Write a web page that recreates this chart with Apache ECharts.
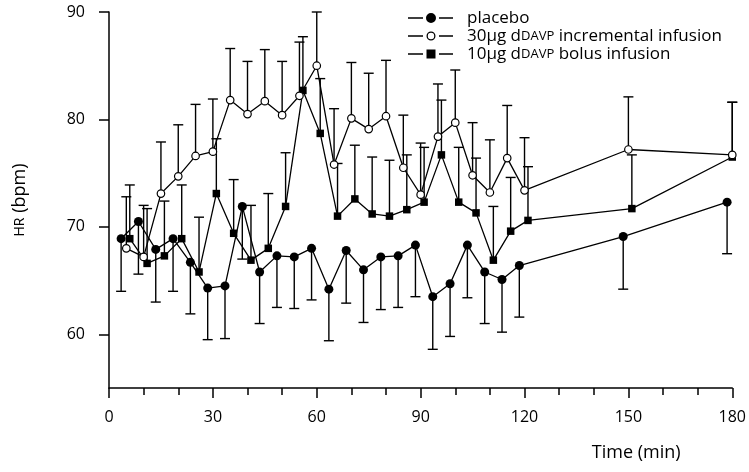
<!DOCTYPE html>
<html><head><meta charset="utf-8">
<script src="https://cdn.jsdelivr.net/npm/echarts@6/dist/echarts.min.js"></script>
<style>html,body{margin:0;padding:0;background:#fff}#c{width:749px;height:472px}</style>
</head><body><div id="c"></div>
<script>
// ---- data ----
const seriesNames = ['placebo', '30µg dDAVP incremental infusion', '10µg dDAVP bolus infusion'];
const xTickLabels = [0, 30, 60, 90, 120, 150, 180];
const yTickLabels = [60, 70, 80, 90];

// placebo (drawn slightly left of nominal time)
const placeboTime = [3.5,8.5,13.5,18.5,23.5,28.5,33.5,38.5,43.5,48.5,53.5,58.5,63.5,68.5,73.5,78.5,83.5,88.5,93.5,98.5,103.5,108.5,113.5,118.5,148.5,178.5];
const placeboHR   = [68.9,70.5,67.9,68.9,66.7,64.3,64.5,71.9,65.8,67.3,67.2,68.0,64.2,67.8,66.0,67.2,67.3,68.3,63.5,64.7,68.3,65.8,65.1,66.4,69.1,72.3];
const placeboLow  = [64.0,65.6,63.0,64.0,61.9,59.5,59.6,67.0,61.0,62.5,62.4,63.2,59.4,62.9,61.1,62.3,62.5,63.5,58.6,59.8,63.4,61.0,60.2,61.6,64.2,67.5];

// 30 µg incremental infusion
const incTime = [5,10,15,20,25,30,35,40,45,50,55,60,65,70,75,80,85,90,95,100,105,110,115,120,150,180];
const incHR   = [68.0,67.2,73.1,74.7,76.6,77.0,81.8,80.5,81.7,80.4,82.2,85.0,75.8,80.1,79.1,80.3,75.5,73.0,78.4,79.7,74.8,73.2,76.4,73.4,77.2,76.7];
const incHigh = [72.8,72.0,77.9,79.5,81.4,81.9,86.6,85.4,86.5,85.4,87.2,90.0,81.0,85.3,84.3,85.5,80.4,77.8,83.3,84.6,79.7,78.1,81.3,78.3,82.1,81.6];

// 10 µg bolus infusion (drawn slightly right of nominal time)
const bolusTime = [6,11,16,21,26,31,36,41,46,51,56,61,66,71,76,81,86,91,96,101,106,111,116,121,151,180];
const bolusHR   = [68.9,66.6,67.3,68.9,65.8,73.1,69.4,66.9,68.0,71.9,82.7,78.7,71.0,72.6,71.2,71.0,71.6,72.3,76.7,72.3,71.3,66.9,69.6,70.6,71.7,76.5];
const bolusHigh = [73.9,71.7,72.4,73.9,70.9,78.2,74.4,72.0,73.1,76.9,87.7,83.8,75.9,77.6,76.5,76.2,76.7,77.4,81.8,77.4,76.4,71.9,74.6,75.6,76.7,81.6];

// ---- chart ----
const FONT = 'Open Sans';
const zip2 = (a, b) => a.map((v, i) => [v, b[i]]);
const zip3 = (a, b, c) => a.map((v, i) => [v, b[i], c[i]]);

function errRender(params, api) {
  const p0 = api.coord([api.value(0), api.value(1)]);
  const p1 = api.coord([api.value(0), api.value(2)]);
  const hw = 5;
  const st = {stroke: '#000', lineWidth: 1.4};
  return {type: 'group', children: [
    {type: 'line', shape: {x1: p0[0], y1: p0[1], x2: p1[0], y2: p1[1]}, style: st},
    {type: 'line', shape: {x1: p1[0] - hw, y1: p1[1], x2: p1[0] + hw, y2: p1[1]}, style: st}
  ]};
}
function errSeries(name, data) {
  return {type: 'custom', name: name, renderItem: errRender, data: data, z: 1,
    encode: {x: 0, y: [1, 2]}, silent: true};
}

const anchors = 'M0 0h0.01v0.01h-0.01z M53.99 9.99h0.01v0.01h-0.01z ';
const dashes = 'M0 4.3h15v1.4H0z M31 4.3h14v1.4H31z ';
const iconFilled = 'path://' + anchors + dashes + 'M18 5a5 5 0 1 0 10 0a5 5 0 1 0 -10 0z';
const iconRing = 'path://' + anchors + dashes + 'M18.5 5a4.5 4.5 0 1 0 9 0a4.5 4.5 0 1 0 -9 0z M19.8 5a3.2 3.2 0 1 1 6.4 0a3.2 3.2 0 1 1 -6.4 0z';
const iconSquare = 'path://' + anchors + dashes + 'M18.5 0.5h9v9h-9z';

const chart = echarts.init(document.getElementById('c'), null, {renderer: 'canvas'});
chart.setOption({
  animation: false,
  backgroundColor: '#fff',
  textStyle: {fontFamily: FONT, color: '#000'},
  grid: {left: 109, right: 12, top: 12, bottom: 84, containLabel: false},
  legend: {
    orient: 'vertical', left: 408, top: 9, padding: 0,
    itemWidth: 54, itemHeight: 10, itemGap: 0,
    selectedMode: false,
    textStyle: {fontFamily: FONT, fontSize: 17, lineHeight: 18, color: '#000',
      rich: {sc: {fontFamily: FONT, fontSize: 13, color: '#000'}}},
    formatter: n => n.replace('DAVP', '{sc|DAVP}'),
    data: [
      {name: seriesNames[0], icon: iconFilled, itemStyle: {color: '#000', borderWidth: 0}},
      {name: seriesNames[1], icon: iconRing, itemStyle: {color: '#000', borderWidth: 0}},
      {name: seriesNames[2], icon: iconSquare, itemStyle: {color: '#000', borderWidth: 0}}
    ]
  },
  xAxis: {
    type: 'value', min: 0, max: 180, interval: 30,
    axisLine: {show: true, onZero: false, lineStyle: {color: '#000', width: 1.5}},
    axisTick: {show: true, length: 10, lineStyle: {color: '#000', width: 1.5}},
    minorTick: {show: true, splitNumber: 3, length: 7, lineStyle: {color: '#000', width: 1.5}},
    splitLine: {show: false}, minorSplitLine: {show: false},
    axisLabel: {customValues: xTickLabels, margin: 21, fontSize: 16, fontFamily: FONT, color: '#000'},
    name: 'Time (min)', nameLocation: 'middle', nameGap: 56,
    nameTextStyle: {fontSize: 18, fontFamily: FONT, color: '#000', padding: [0, 0, 0, 431]}
  },
  yAxis: {
    type: 'value', min: 55, max: 90,
    axisLine: {show: true, onZero: false, lineStyle: {color: '#000', width: 1.5}},
    axisTick: {show: true, length: 10, customValues: yTickLabels, lineStyle: {color: '#000', width: 1.5}},
    splitLine: {show: false},
    axisLabel: {customValues: yTickLabels, margin: 24, fontSize: 16, fontFamily: FONT, color: '#000'},
    name: '{sc|HR} (bpm)', nameLocation: 'middle', nameGap: 80, nameRotate: 90,
    nameTextStyle: {fontSize: 18, fontFamily: FONT, color: '#000',
      rich: {sc: {fontSize: 14, fontFamily: FONT, color: '#000'}}}
  },
  series: [
    errSeries('placeboErr', zip3(placeboTime, placeboHR, placeboLow)),
    errSeries('incErr', zip3(incTime, incHR, incHigh)),
    errSeries('bolusErr', zip3(bolusTime, bolusHR, bolusHigh)),
    {type: 'line', name: seriesNames[0], data: zip2(placeboTime, placeboHR), z: 2,
      symbol: 'circle', symbolSize: 9, showAllSymbol: true,
      lineStyle: {color: '#000', width: 1.3}, itemStyle: {color: '#000', borderWidth: 0}},
    {type: 'line', name: seriesNames[2], data: zip2(bolusTime, bolusHR), z: 3,
      symbol: 'rect', symbolSize: 7.5, showAllSymbol: true,
      lineStyle: {color: '#000', width: 1.3}, itemStyle: {color: '#000', borderWidth: 0}},
    {type: 'line', name: seriesNames[1], data: zip2(incTime, incHR), z: 4,
      symbol: 'circle', symbolSize: 7.5, showAllSymbol: true,
      lineStyle: {color: '#000', width: 1.3}, itemStyle: {color: '#fff', borderColor: '#000', borderWidth: 1.2}}
  ]
});
</script>
</body></html>
